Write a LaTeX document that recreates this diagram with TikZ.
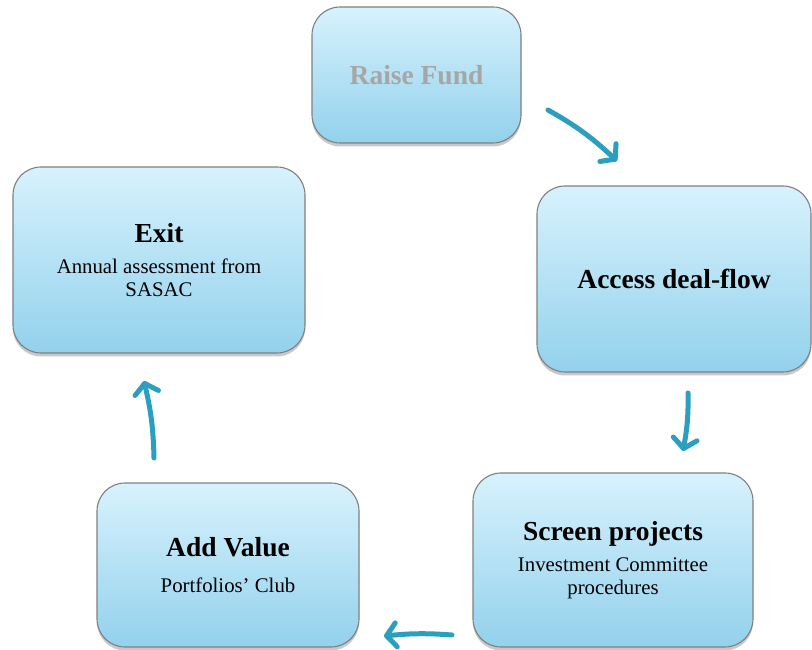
\documentclass[tikz,border=0pt]{standalone}
\usepackage{fontspec}
\setmainfont{Liberation Serif}
\usetikzlibrary{arrows.meta,shadows,bending}
\definecolor{boxtop}{HTML}{D7F2FD}
\definecolor{boxbot}{HTML}{93D1EC}
\definecolor{boxline}{HTML}{808080}
\definecolor{arrowc}{HTML}{2A9FBF}
\definecolor{greytext}{HTML}{A6A6A6}
\newcommand{\hd}[1]{{\fontsize{27.5}{31}\selectfont\bfseries #1}}
\tikzset{
  stage/.style={draw=boxline, line width=1.1pt, rounded corners=28pt,
    top color=boxtop, bottom color=boxbot, align=center,
    font=\fontsize{20.8}{22.5}\selectfont,
    drop shadow={shadow xshift=0pt, shadow yshift=-3.5pt, opacity=0.28, fill=black!75}},
  flow/.style={draw=arrowc, line width=5pt, line cap=round,
    -{Straight Barb[length=10pt, width=24pt, round, bend]}}
}
\begin{document}
\begin{tikzpicture}[x=1pt,y=1pt]
\useasboundingbox[fill=white] (0,0) rectangle (812,650);
\node[stage, minimum width=209pt, minimum height=136pt] (raise) at (416.5,575)
  {\textcolor{greytext}{\hd{Raise Fund}}};
\node[stage, minimum width=274pt, minimum height=186pt] (access) at (674,371)
  {\hd{Access deal-flow}};
\node[stage, minimum width=280pt, minimum height=174pt] (screen) at (613,90)
  {\hd{Screen projects}\\[9pt]Investment Committee\\procedures};
\node[stage, minimum width=262pt, minimum height=164pt] (addv) at (228,85)
  {\hd{Add Value}\\[13pt]Portfolios’ Club};
\node[stage, minimum width=292pt, minimum height=186pt] (exit) at (159,390)
  {\hd{Exit}\\[9pt]Annual assessment from\\SASAC};
\coordinate (a1s) at (548,540);
\coordinate (a1e) at (617,489);
\coordinate (a2s) at (688,257);
\coordinate (a2e) at (683,199);
\coordinate (a3s) at (452,15);
\coordinate (a3e) at (384,14);
\coordinate (a4s) at (154,192);
\coordinate (a4e) at (144,269);
\draw[flow] (a1s) to[bend left=7] (a1e);
\draw[flow] (a2s) to[bend left=6] (a2e);
\draw[flow] (a3s) to[bend right=5] (a3e);
\draw[flow] (a4s) to[bend right=6] (a4e);
\end{tikzpicture}
\end{document}
